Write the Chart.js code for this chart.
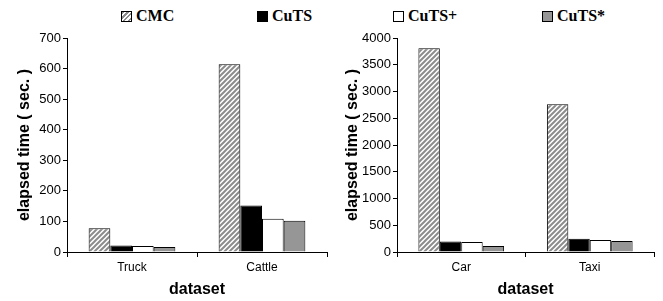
<!DOCTYPE html>
<html>
<head>
<meta charset="utf-8">
<script src="https://cdn.jsdelivr.net/npm/chart.js@4/dist/chart.umd.min.js"></script>
<style>
  body { margin: 0; background: #fff; width: 663px; height: 301px; position: relative; overflow: hidden; }
  .leg { position: absolute; top: 7px; font: bold 16px "Liberation Serif", "Times New Roman", serif; color: #000; line-height: 18px; white-space: nowrap; }
  .sw { display: inline-block; width: 11px; height: 11px; box-sizing: border-box; border: 1px solid #000; margin-right: 4px; vertical-align: -1px; }
  .pane { position: absolute; top: 26px; }
</style>
</head>
<body>
<div class="leg" style="left:121px"><span class="sw" style="background:repeating-linear-gradient(135deg,#8c8c8c 0 1.6px,#fff 1.6px 3.4px)"></span>CMC</div>
<div class="leg" style="left:257px"><span class="sw" style="background:#000"></span>CuTS</div>
<div class="leg" style="left:393px"><span class="sw" style="background:#fff"></span>CuTS+</div>
<div class="leg" style="left:542px"><span class="sw" style="background:#969696"></span>CuTS*</div>

<div class="pane" style="left:0"><canvas id="leftChart" width="330" height="275"></canvas></div>
<div class="pane" style="left:330px"><canvas id="rightChart" width="333" height="275"></canvas></div>

<script>
// left panel
const leftLabels = ["Truck", "Cattle"];
const leftCMC = [78, 614];
const leftCuTS = [21, 152];
const leftCuTSPlus = [20, 109];
const leftCuTSStar = [16, 102];

// right panel
const rightLabels = ["Car", "Taxi"];
const rightCMC = [3810, 2760];
const rightCuTS = [195, 250];
const rightCuTSPlus = [185, 225];
const rightCuTSStar = [112, 206];

const seriesNames = ["CMC", "CuTS", "CuTS+", "CuTS*"];

function hatchPattern() {
  const c = document.createElement("canvas");
  c.width = 5; c.height = 5;
  const g = c.getContext("2d");
  g.fillStyle = "#fff";
  g.fillRect(0, 0, 5, 5);
  g.strokeStyle = "#8c8c8c";
  g.lineWidth = 2;
  g.beginPath();
  g.moveTo(0, 5); g.lineTo(5, 0);
  g.moveTo(-1, 1); g.lineTo(1, -1);
  g.moveTo(4, 6); g.lineTo(6, 4);
  g.stroke();
  return g.createPattern(c, "repeat");
}

function makeChart(id, labels, values, yMax, yStep, rightPad, titlePad) {
  const fills = [hatchPattern(), "#000", "#fff", "#969696"];
  new Chart(document.getElementById(id), {
    type: "bar",
    data: {
      labels: labels,
      datasets: values.map((v, i) => ({
        label: seriesNames[i],
        data: v,
        backgroundColor: fills[i],
        borderColor: "#000",
        borderWidth: 1,
        categoryPercentage: 0.667,
        barPercentage: 1
      }))
    },
    options: {
      responsive: false,
      animation: false,
      layout: { padding: { top: 12, right: rightPad, left: 0, bottom: 0 } },
      plugins: { legend: { display: false }, tooltip: { enabled: false } },
      scales: {
        x: {
          grid: { offset: true, drawOnChartArea: false, tickLength: 5, color: "#000" },
          border: { color: "#000" },
          ticks: { color: "#000", padding: 3, font: { family: "Liberation Sans", size: 12 } },
          title: {
            display: true, text: "dataset", color: "#000",
            font: { family: "Liberation Sans", size: 16, weight: "bold" },
            padding: { top: 0, bottom: 1.5 }
          },
          afterFit: (s) => { s.height = 49; }
        },
        y: {
          min: 0, max: yMax,
          grid: { drawOnChartArea: false, tickLength: 4, color: "#000" },
          border: { color: "#000" },
          ticks: {
            stepSize: yStep, color: "#000", padding: 2,
            font: { family: "Liberation Sans", size: 13 },
            callback: (v) => String(v)
          },
          title: {
            display: true, text: "elapsed time ( sec. )", color: "#000",
            font: { family: "Liberation Sans", size: 16, weight: "bold" },
            padding: { top: titlePad, bottom: 0 }
          },
          afterFit: (s) => { s.width = 67; }
        }
      }
    }
  });
}

makeChart("leftChart", leftLabels, [leftCMC, leftCuTS, leftCuTSPlus, leftCuTSStar], 700, 100, 3, 15);
makeChart("rightChart", rightLabels, [rightCMC, rightCuTS, rightCuTSPlus, rightCuTSStar], 4000, 500, 9, 13);
</script>
</body>
</html>
